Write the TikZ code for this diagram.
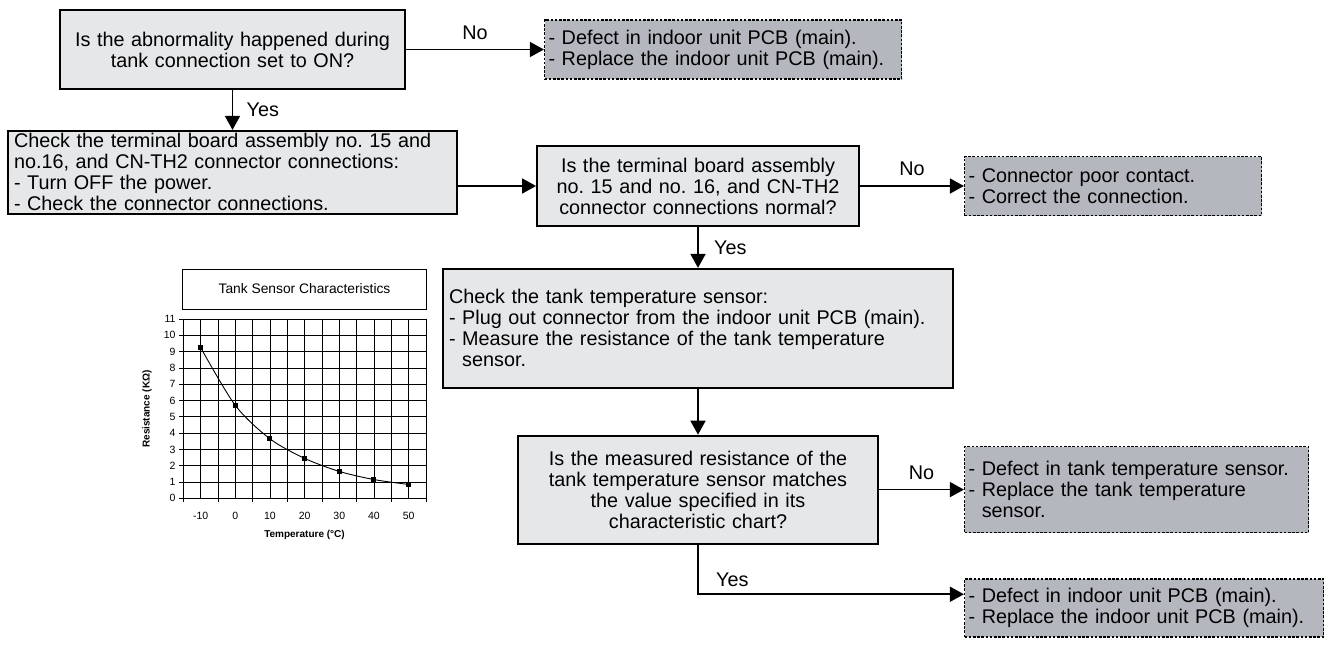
\documentclass[tikz,border=0pt]{standalone}
\usepackage{fontspec}
\setmainfont{Liberation Sans}
\usetikzlibrary{arrows.meta,positioning}

\definecolor{stepfill}{RGB}{230,231,233}
\definecolor{endfill}{RGB}{180,183,189}
\newcommand{\boxfont}{\fontsize{19.8}{21}\selectfont}
\newcommand{\tickfont}{\fontsize{10.5}{12}\selectfont}
\newcommand{\axisfont}{\fontsize{10}{12}\selectfont\bfseries}
\frenchspacing

\begin{document}
\begin{tikzpicture}[
        x=1pt, y=1pt,
        node distance=40pt,
        stepbox/.style={rectangle, draw=black, line width=1.8pt, fill=stepfill, inner xsep=6pt, inner ysep=1pt, align=left, font=\boxfont},
        askbox/.style={stepbox, align=center},
        endbox/.style={rectangle, draw=black, line width=1.3pt, dash pattern=on 2.6pt off 1.6pt, fill=endfill, inner xsep=4pt, inner ysep=2pt, align=left, font=\boxfont},
        arrow/.style={-{Triangle[length=14pt, width=15pt]}, line width=1.6pt},
        lbl/.style={font=\boxfont}
    ]
        \useasboundingbox (0,0) rectangle (1332,-646);

        \node[askbox, text width=333pt, minimum height=79pt] (q1) at (232.5,-49.5) {Is the abnormality happened during\\tank connection set to ON?};
        \node[endbox, text width=349pt, minimum height=59pt, right=138pt of q1] (d1) {- Defect in indoor unit PCB (main).\\- Replace the indoor unit PCB (main).};
        \node[stepbox, text width=437pt, minimum height=83pt, below=40pt of q1] (chk1) {Check the terminal board assembly no. 15 and\\no.16, and CN-TH2 connector connections:\\- Turn OFF the power.\\- Check the connector connections.};
        \node[askbox, text width=310pt, minimum height=80pt] (q2) at (698,-186) {Is the terminal board assembly\\no. 15 and no. 16, and CN-TH2\\connector connections normal?};
        \node[endbox, text width=289pt, minimum height=59pt, right=104pt of q2] (d2) {- Connector poor contact.\\- Correct the connection.};
        \node[stepbox, text width=498pt, minimum height=119pt, below=41pt of q2] (chk2) {Check the tank temperature sensor:\\- Plug out connector from the indoor unit PCB (main).\\- Measure the resistance of the tank temperature\\\phantom{- }sensor.};
        \node[askbox, text width=348pt, minimum height=108pt, below=46pt of chk2] (q3) {Is the measured resistance of the\\tank temperature sensor matches\\the value specified in its\\characteristic chart?};
        \node[endbox, text width=336pt, minimum height=86pt, right=85pt of q3] (d3) {- Defect in tank temperature sensor.\\- Replace the tank temperature\\\phantom{- }sensor.};
        \node[endbox, text width=351pt, minimum height=58pt, below=45pt of d3.south west, anchor=north west] (d4) {- Defect in indoor unit PCB (main).\\- Replace the indoor unit PCB (main).};

        \draw[arrow] (q1) -- node[lbl, above=6pt] {No} (d1);
        \draw[arrow] (q1) -- node[lbl, right=10pt] {Yes} (chk1);
        \draw[arrow] (chk1.east |- q2.west) -- (q2.west);
        \draw[arrow] (q2) -- node[lbl, above=6pt] {No} (d2);
        \draw[arrow] (q2) -- node[lbl, right=12pt] {Yes} (chk2);
        \draw[arrow] (chk2) -- (q3);
        \draw[arrow] (q3) -- node[lbl, above=6pt] {No} (d3);
        \draw[arrow] (q3.south) |- node[lbl, right=14pt, pos=0.35] {Yes} ([yshift=-16pt]d4.north west);

        % tank sensor chart
        \node[draw, line width=0.8pt, minimum width=244pt, minimum height=40pt, font=\fontsize{13.8}{15}\selectfont] (charttitle) at (304.5,-289) {Tank Sensor Characteristics};
        \begin{scope}[shift={(235.3,-498.3)}, x=3.4667pt, y=16.3pt, line width=0.8pt]
            \foreach \tc in {-15,-10,...,55} \draw (\tc,0) -- (\tc,11);
            \foreach \rv in {0,...,11} {
                \draw (-15,\rv) -- (55,\rv);
                \draw (-15,\rv) -- ++(-4pt,0) node[left, font=\tickfont] {\rv};
            }
            \foreach \tc in {-15,-5,...,55} \draw (\tc,0) -- ++(0,-4pt);
            \foreach \tc in {-10,0,...,50} \path (\tc,0) ++(0,-18pt) node[font=\tickfont] {\tc};
            \draw[line width=0.9pt] plot[smooth, tension=0.5] coordinates {(-10,9.25) (0,5.7) (10,3.65) (20,2.45) (30,1.65) (40,1.15) (50,0.85)};
            \foreach \pt in {(-10,9.25), (0,5.7), (10,3.65), (20,2.45), (30,1.65), (40,1.15), (50,0.85)}
                \fill \pt ++(-2.5pt,-2.5pt) rectangle ++(5pt,5pt);
        \end{scope}
        \node[font=\axisfont, rotate=90] (ylab) at (147,-409) {Resistance (KΩ)};
        \node[font=\axisfont] (xlab) at (304.5,-535) {Temperature (°C)};
    \end{tikzpicture}
\end{document}
